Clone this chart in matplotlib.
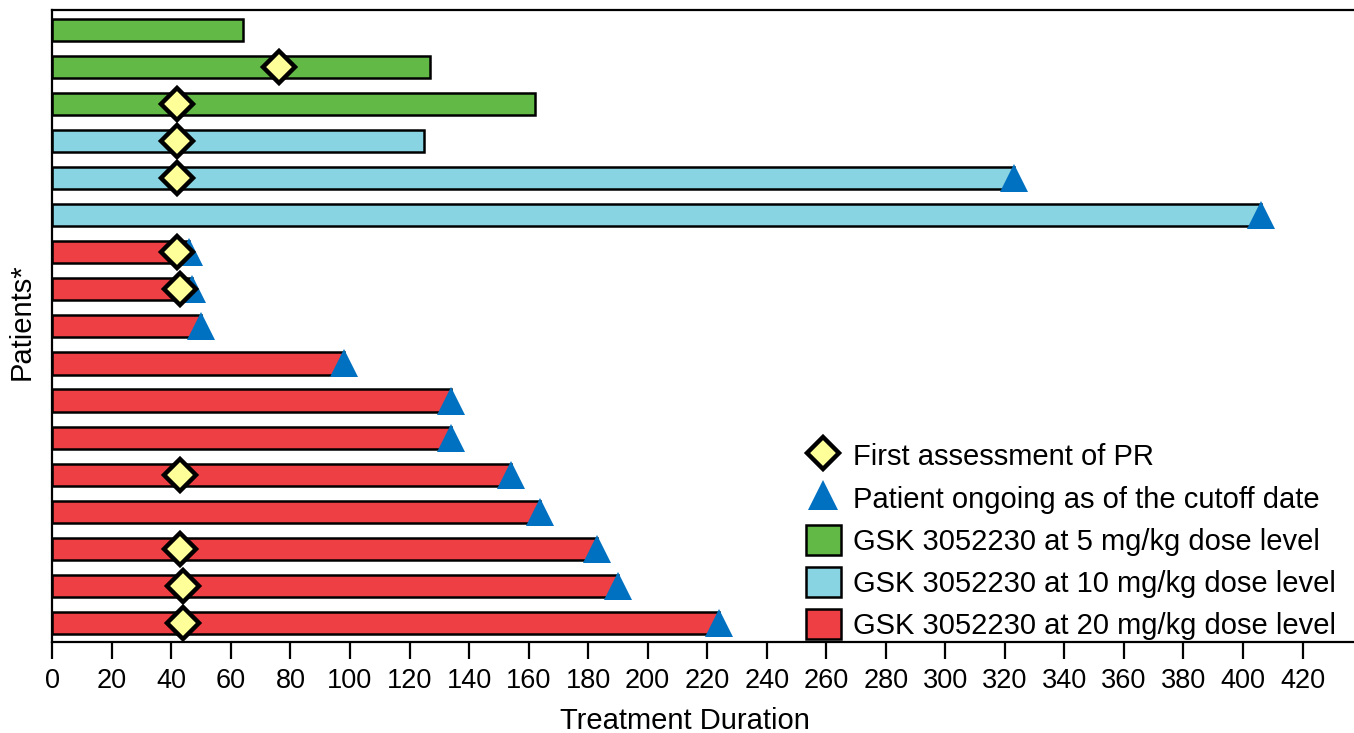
import matplotlib
matplotlib.use("Agg")
import matplotlib.pyplot as plt
from matplotlib.lines import Line2D
from matplotlib.patches import Patch

plt.rcParams['font.family'] = ['Liberation Sans', 'DejaVu Sans']

# ---- data (top to bottom) ----
durations = [64, 127, 162, 125, 323, 406, 46, 47, 50, 98, 134, 134, 154, 164, 183, 190, 224]
dose_level = ['5', '5', '5', '10', '10', '10',
              '20', '20', '20', '20', '20', '20', '20', '20', '20', '20', '20']
pr_day = [None, 76, 42, 42, 42, None, 42, 43, None, None, None, None, 43, None, 43, 44, 44]
ongoing = [False, False, False, False, True, True,
           True, True, True, True, True, True, True, True, True, True, True]
x_ticks = list(range(0, 421, 20))

dose_colors = {'5': '#62B946', '10': '#88D4E2', '20': '#EE3F44'}
dose_labels = {'5': 'GSK 3052230 at 5 mg/kg dose level',
               '10': 'GSK 3052230 at 10 mg/kg dose level',
               '20': 'GSK 3052230 at 20 mg/kg dose level'}
tri_color = '#0070C0'
dia_color = '#FFFF99'

fig = plt.figure(figsize=(13.54, 7.33), dpi=100)
ax = fig.add_axes([52.3 / 1354, (733 - 642) / 733, 1 - 52.3 / 1354, (642 - 10) / 733])

ypos = list(range(len(durations)))
ax.barh(ypos, durations, height=0.6, color=[dose_colors[d] for d in dose_level],
        edgecolor='black', linewidth=1.8, zorder=2)

tx = [d for d, o in zip(durations, ongoing) if o]
ty = [y for y, o in zip(ypos, ongoing) if o]
ax.plot(tx, ty, linestyle='none', marker='^', markersize=19.5, color=tri_color,
        markeredgewidth=0, zorder=3, clip_on=False)

dx = [p for p in pr_day if p is not None]
dy = [y for y, p in zip(ypos, pr_day) if p is not None]
ax.plot(dx, dy, linestyle='none', marker='D', markersize=16.5, markerfacecolor=dia_color,
        markeredgecolor='black', markeredgewidth=3.2, zorder=4)

ax.set_xlim(0, 437.3)
ax.set_ylim(16.51, -0.53)
ax.set_xticks(x_ticks)
ax.set_xticklabels([str(t) for t in x_ticks], fontsize=19.5)
ax.set_yticks([])
ax.tick_params(axis='x', direction='out', length=12, width=1.6, pad=6.5, color='black')
for s in ['left', 'bottom', 'top']:
    ax.spines[s].set_linewidth(1.6)
    ax.spines[s].set_color('black')
ax.spines['right'].set_visible(False)

ax.set_xlabel('Treatment Duration', fontsize=21)
ax.xaxis.set_label_coords((685 - 52.3) / 1301.7, (642 - 721) / 632)
ax.xaxis.label.set_va('center')
ax.set_ylabel('Patients*', fontsize=21)
ax.yaxis.set_label_coords((22 - 52.3) / 1301.7, (642 - 321.5) / 632)
ax.yaxis.label.set_va('center')

handles = [
    Line2D([], [], linestyle='none', marker='D', markersize=16.5, markerfacecolor=dia_color,
           markeredgecolor='black', markeredgewidth=3.2),
    Line2D([], [], linestyle='none', marker='^', markersize=21, color=tri_color,
           markeredgewidth=0),
]
labels = ['First assessment of PR', 'Patient ongoing as of the cutoff date']
for d in ['5', '10', '20']:
    handles.append(Patch(facecolor=dose_colors[d], edgecolor='black', linewidth=1.8))
    labels.append(dose_labels[d])

ax.legend(handles, labels, loc='lower right',
          bbox_to_anchor=((1336 - 52.3) / 1301.7, (642 - 640) / 632),
          frameon=False, fontsize=21, handlelength=1.2, handleheight=1.2,
          labelspacing=0.39, handletextpad=0.42, borderpad=0, borderaxespad=0)

fig.savefig('out.png', dpi=100)
